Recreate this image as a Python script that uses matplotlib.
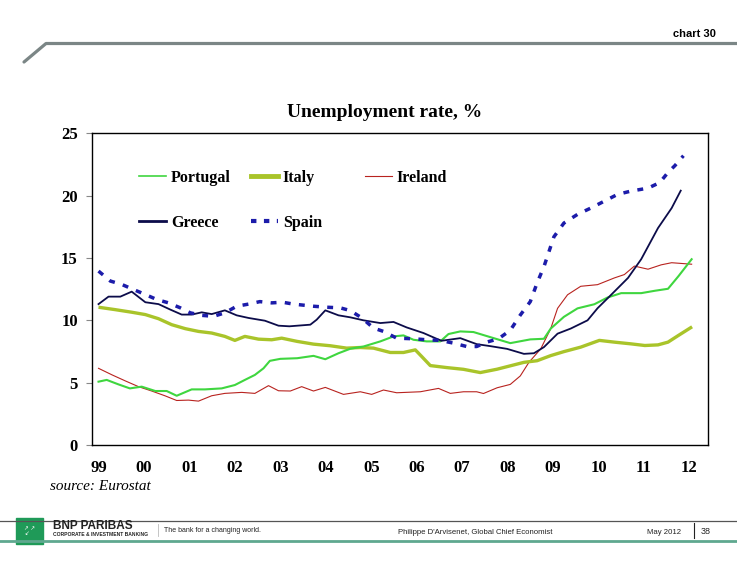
import numpy as np
import matplotlib.pyplot as plt
from matplotlib.lines import Line2D
from matplotlib.patches import Rectangle

# values (decimal year, % unemployment)
greece_t = [1999.0, 1999.22, 1999.48, 1999.73, 2000.03, 2000.32, 2000.58, 2000.83, 2001.05, 2001.27,
            2001.49, 2001.78, 2002.04, 2002.3, 2002.66, 2002.96, 2003.2, 2003.66, 2003.8, 2003.99,
            2004.28, 2004.54, 2004.83, 2005.2, 2005.49, 2005.78, 2006.15, 2006.44, 2006.55, 2006.96,
            2007.32, 2007.62, 2007.99, 2008.36, 2008.58, 2008.8, 2009.1, 2009.39, 2009.76, 2009.98,
            2010.28, 2010.65, 2010.94, 2011.31, 2011.61, 2011.81]
greece = [11.3, 11.9, 11.9, 12.3, 11.45, 11.3, 10.86, 10.46, 10.46, 10.64,
          10.5, 10.8, 10.4, 10.19, 9.97, 9.57, 9.52, 9.65, 10.05, 10.8,
          10.4, 10.24, 10.0, 9.78, 9.87, 9.43, 8.98, 8.52, 8.36, 8.57,
          8.09, 7.93, 7.71, 7.31, 7.36, 7.85, 8.93, 9.34, 10.0, 10.97,
          12.05, 13.4, 14.9, 17.4, 19.0, 20.4]

spain_t = [1999.0, 1999.26, 1999.51, 1999.77, 2000.03, 2000.28, 2000.54, 2000.8, 2001.02, 2001.27,
           2001.53, 2001.78, 2002.04, 2002.3, 2002.55, 2002.81, 2003.05, 2003.29, 2003.73, 2004.02,
           2004.32, 2004.54, 2004.79, 2005.05, 2005.27, 2005.56, 2005.93, 2006.22, 2006.52, 2006.81,
           2007.1, 2007.32, 2007.54, 2007.8, 2008.06, 2008.28, 2008.5, 2008.65, 2008.8, 2008.91,
           2009.02, 2009.24, 2009.54, 2009.83, 2010.13, 2010.42, 2010.72, 2011.09, 2011.35, 2011.53,
           2011.68, 2011.87]
spain = [13.95, 13.15, 12.88, 12.47, 12.07, 11.67, 11.4, 11.0, 10.6, 10.4,
         10.32, 10.6, 11.13, 11.3, 11.5, 11.4, 11.45, 11.3, 11.13, 11.05,
         11.0, 10.78, 10.2, 9.38, 9.11, 8.57, 8.52, 8.44, 8.39, 8.17,
         7.9, 7.9, 8.25, 8.52, 9.2, 10.42, 11.5, 13.0, 14.3, 15.5,
         16.7, 17.8, 18.5, 19.0, 19.56, 20.1, 20.37, 20.6, 21.05, 21.86,
         22.4, 23.2]

italy_t = [1999.0, 1999.36, 1999.73, 2000.03, 2000.32, 2000.61, 2000.91, 2001.2, 2001.49, 2001.78,
           2002.0, 2002.22, 2002.52, 2002.81, 2003.03, 2003.37, 2003.73, 2004.1, 2004.46, 2004.76,
           2005.05, 2005.42, 2005.71, 2005.97, 2006.11, 2006.3, 2006.66, 2007.03, 2007.4, 2007.77,
           2008.06, 2008.36, 2008.65, 2008.95, 2009.24, 2009.61, 2010.02, 2010.35, 2010.72, 2011.02,
           2011.31, 2011.53, 2011.76, 2012.06]
italy = [11.05, 10.86, 10.65, 10.46, 10.13, 9.65, 9.33, 9.11, 8.98, 8.71,
         8.39, 8.71, 8.49, 8.44, 8.57, 8.31, 8.09, 7.96, 7.77, 7.82,
         7.77, 7.42, 7.42, 7.63, 7.1, 6.37, 6.21, 6.07, 5.81, 6.08,
         6.35, 6.63, 6.76, 7.17, 7.49, 7.85, 8.39, 8.25, 8.11, 7.98,
         8.03, 8.25, 8.79, 9.48]

portugal_t = [1999.0, 1999.18, 1999.44, 1999.69, 1999.95, 2000.25, 2000.5, 2000.72, 2001.05, 2001.34,
              2001.71, 2002.0, 2002.22, 2002.44, 2002.63, 2002.77, 2003.0, 2003.37, 2003.73, 2003.99,
              2004.28, 2004.54, 2004.83, 2005.2, 2005.49, 2005.71, 2005.93, 2006.22, 2006.52, 2006.7,
              2006.96, 2007.25, 2007.54, 2008.06, 2008.5, 2008.8, 2008.95, 2009.24, 2009.54, 2009.91,
              2010.2, 2010.5, 2010.94, 2011.24, 2011.53, 2011.76, 2012.05]
portugal = [5.08, 5.22, 4.86, 4.54, 4.68, 4.33, 4.33, 3.95, 4.46, 4.46,
            4.54, 4.81, 5.22, 5.62, 6.15, 6.75, 6.91, 6.96, 7.15, 6.88,
            7.36, 7.72, 7.9, 8.31, 8.71, 8.79, 8.44, 8.31, 8.31, 8.9,
            9.11, 9.06, 8.74, 8.17, 8.47, 8.52, 9.34, 10.28, 10.96, 11.29,
            11.83, 12.18, 12.18, 12.37, 12.53, 13.54, 14.9]

ireland_t = [1999.0, 1999.3, 1999.59, 1999.88, 2000.17, 2000.46, 2000.72, 2000.98, 2001.2, 2001.49,
             2001.78, 2002.15, 2002.44, 2002.74, 2002.96, 2003.22, 2003.47, 2003.73, 2003.99, 2004.39,
             2004.76, 2005.01, 2005.27, 2005.56, 2006.08, 2006.48, 2006.74, 2007.03, 2007.32, 2007.47,
             2007.77, 2008.06, 2008.28, 2008.47, 2008.73, 2008.95, 2009.1, 2009.32, 2009.61, 2009.98,
             2010.35, 2010.57, 2010.79, 2011.09, 2011.38, 2011.61, 2012.05]
ireland = [6.15, 5.62, 5.14, 4.68, 4.33, 3.95, 3.57, 3.6, 3.52, 3.95,
           4.14, 4.22, 4.14, 4.76, 4.35, 4.33, 4.68, 4.33, 4.62, 4.06,
           4.27, 4.06, 4.41, 4.19, 4.27, 4.54, 4.14, 4.27, 4.27, 4.13,
           4.59, 4.86, 5.54, 6.63, 7.71, 9.34, 10.96, 12.05, 12.73, 12.86,
           13.4, 13.67, 14.35, 14.1, 14.45, 14.62, 14.5]

years = list(range(1999, 2013))
year_labels = ['99', '00', '01', '02', '03', '04', '05', '06', '07', '08', '09', '10', '11', '12']
y_ticks = [0, 5, 10, 15, 20, 25]

serif = 'Liberation Serif'
sans = 'Liberation Sans'

fig = plt.figure(figsize=(7.37, 5.67), dpi=100)
W, H = 737, 567
ax = fig.add_axes([91.7 / W, 1 - 445 / H, (708 - 91.7) / W, (445 - 133.3) / H])

c_port = '#3fd63f'
c_italy = '#a9c42a'
c_ire = '#b8231f'
c_greece = '#0c0c4a'
c_spain = '#1c1caa'

ax.plot(ireland_t, ireland, color=c_ire, lw=0.8)
ax.plot(italy_t, italy, color=c_italy, lw=2.4, solid_capstyle='butt')
ax.plot(portugal_t, portugal, color=c_port, lw=1.5)
ax.plot(greece_t, greece, color=c_greece, lw=1.3)
ax.plot(spain_t, spain, color=c_spain, lw=2.5, ls=(0, (1.7, 2.4)))

ax.set_xlim(1998.85, 2012.41)
ax.set_ylim(0, 25)
ax.set_xticks(years)
ax.set_xticklabels(year_labels)
ax.set_yticks(y_ticks)
ax.tick_params(axis='x', length=0, pad=11)
ax.tick_params(axis='y', direction='out', length=4, width=0.8, color='#888888', pad=6)
for lab in ax.get_xticklabels() + ax.get_yticklabels():
    lab.set_fontfamily(serif)
    lab.set_fontweight('bold')
    lab.set_fontsize(12)
for sp in ax.spines.values():
    sp.set_linewidth(1.0)
    sp.set_color('black')

# legend
h_port = Line2D([], [], color=c_port, lw=1.2)
h_italy = Line2D([], [], color=c_italy, lw=3.5)
h_ire = Line2D([], [], color=c_ire, lw=0.8)
h_greece = Line2D([], [], color=c_greece, lw=2.0)
h_spain = Line2D([], [], color=c_spain, lw=3.0, ls=(0, (1.3, 1.8)))
prop = {'family': serif, 'weight': 'bold', 'size': 11.5}
anchor_y = 1 - (170 - 133.3) / 311.7
leg1 = ax.legend([h_port, h_greece, h_italy, h_spain], ['Portugal', 'Greece', 'Italy', 'Spain'],
                 ncol=2, loc='upper left', bbox_to_anchor=((139 - 91.7) / 616.3, anchor_y),
                 frameon=False, prop=prop, handlelength=1.7, handletextpad=0.3,
                 columnspacing=1.25, labelspacing=1.8, borderaxespad=0, borderpad=0)
ax.add_artist(leg1)
ax.legend([h_ire], ['Ireland'], loc='upper left',
          bbox_to_anchor=((365 - 91.7) / 616.3, anchor_y),
          frameon=False, prop=prop, handlelength=1.7, handletextpad=0.3,
          borderaxespad=0, borderpad=0)

fig.text(385 / W, 1 - 113 / H, 'Unemployment rate, %', ha='center', va='center',
         family=serif, weight='bold', fontsize=14)
fig.text(50 / W, 1 - 487 / H, 'source: Eurostat', ha='left', va='center',
         family=serif, style='italic', fontsize=11)

# header
fig.add_artist(Line2D([24 / W, 46 / W, 1.0], [1 - 62 / H, 1 - 43.5 / H, 1 - 43.5 / H],
                      color='#7b8686', lw=2.3, solid_capstyle='round'))
fig.text(716 / W, 1 - 34 / H, 'chart 30', ha='right', va='center', family=sans,
         weight='bold', fontsize=8)

# footer
fig.add_artist(Line2D([0, 1], [1 - 521 / H, 1 - 521 / H], color='#555555', lw=0.9))
fig.add_artist(Line2D([0, 1], [1 - 541 / H, 1 - 541 / H], color='#5fa88f', lw=2.0))
fig.add_artist(Rectangle((16 / W, 1 - 544 / H), 27 / W, 26 / H, color='#1f9a58'))
fig.text(29.5 / W, 1 - 531 / H, '\u2197 \u2197\n\u2199  ', ha='center', va='center',
         family='DejaVu Sans', color='white', fontsize=4, linespacing=1.2)
fig.text(53 / W, 1 - 526 / H, 'BNP PARIBAS', ha='left', va='center', family=sans,
         weight='bold', fontsize=8.5, color='#222222')
fig.text(53 / W, 1 - 535 / H, 'CORPORATE & INVESTMENT BANKING', ha='left', va='center',
         family=sans, weight='bold', fontsize=3.6, color='#222222')
fig.add_artist(Line2D([158 / W, 158 / W], [1 - 524 / H, 1 - 536 / H], color='#bbbbbb', lw=0.6))
fig.text(164 / W, 1 - 530 / H, 'The bank for a changing world.', ha='left', va='center',
         family=sans, fontsize=5, color='#222222')
fig.text(398 / W, 1 - 532 / H, "Philippe D'Arvisenet, Global Chief Economist", ha='left',
         va='center', family=sans, fontsize=5.6, color='#222222')
fig.text(647 / W, 1 - 532 / H, 'May 2012', ha='left', va='center', family=sans,
         fontsize=5.6, color='#222222')
fig.add_artist(Line2D([694 / W, 694 / W], [1 - 523 / H, 1 - 538 / H], color='#222222', lw=0.8))
fig.text(701 / W, 1 - 531 / H, '38', ha='left', va='center', family=sans,
         fontsize=6.5, color='#222222')

fig.savefig('out.png', dpi=100)
